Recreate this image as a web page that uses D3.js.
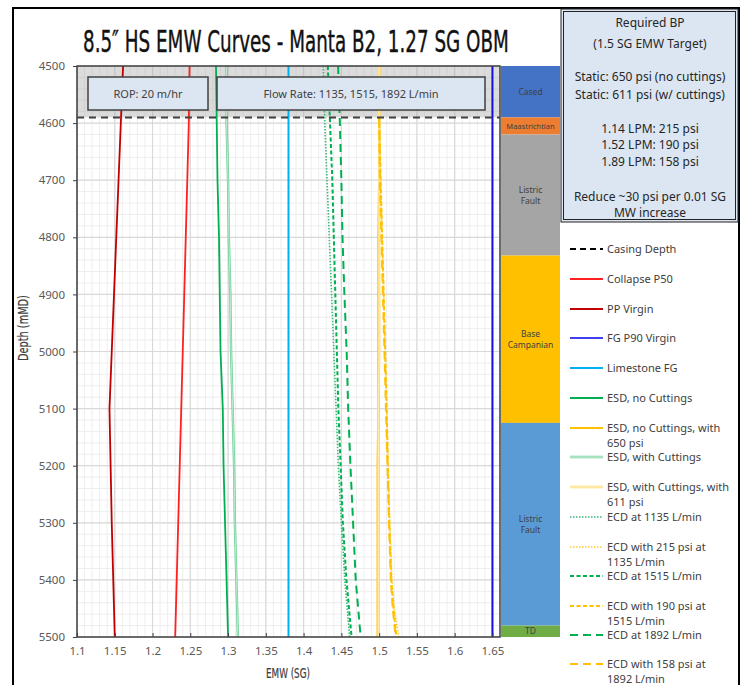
<!DOCTYPE html>
<html><head><meta charset="utf-8">
<script src="https://cdn.jsdelivr.net/npm/d3@7"></script>
<style>
html,body{margin:0;padding:0;background:#fff;}
svg text{font-family:"Noto Sans","Open Sans",sans-serif;}
.narrow{font-family:"Liberation Sans Narrow","DejaVu Sans Condensed","Roboto Condensed","Liberation Sans",sans-serif;}
</style></head>
<body>
<svg id="c" width="743" height="685"></svg>
<script>
// ---------------- DATA ----------------
const depths = [4500,4600,4700,4800,4900,5000,5100,5200,5300,5400,5500];
const ppVirgin     = [1.161,1.158,1.155,1.152,1.149,1.146,1.143,1.1445,1.146,1.148,1.150];
const collapseP50  = [1.249,1.248,1.246,1.244,1.242,1.240,1.238,1.236,1.234,1.232,1.230];
const fgP90        = [1.65,1.65,1.65,1.65,1.65,1.65,1.65,1.65,1.65,1.65,1.65];
const limestoneFG  = [1.38,1.38,1.38,1.38,1.38,1.38,1.38,1.38,1.38,1.38,1.38];
const esdNoCut     = [1.284,1.285,1.286,1.288,1.289,1.290,1.293,1.294,1.296,1.298,1.300];
const esdCut       = [1.298,1.298,1.300,1.301,1.303,1.304,1.306,1.308,1.309,1.311,1.313];
const esdNoCut650  = [1.500,1.500,1.500,1.499,1.499,1.499,1.499,1.498,1.498,1.498,1.498];
const esdCut611    = [1.500,1.500,1.500,1.500,1.500,1.500,1.499,1.499,1.499,1.499,1.499];
const ecd1135      = [1.426,1.428,1.431,1.434,1.437,1.440,1.443,1.446,1.450,1.4545,1.461];
const ecd1515      = [1.432,1.435,1.438,1.440,1.442,1.444,1.446,1.449,1.452,1.4567,1.4635];
const ecd1892      = [1.4457,1.448,1.450,1.4515,1.454,1.457,1.459,1.462,1.4655,1.469,1.4755];
const depthsBP = [4590,4700,4800,4900,5000,5100,5200,5300,5400,5450,5500];
const ecd215   = [1.500,1.502,1.504,1.506,1.508,1.510,1.512,1.514,1.517,1.520,1.526];
const ecd190   = [1.500,1.502,1.504,1.506,1.508,1.510,1.5115,1.5135,1.516,1.519,1.523];
const ecd158   = [1.500,1.501,1.503,1.505,1.507,1.509,1.511,1.513,1.5155,1.518,1.522];

const casingDepth = 4590;
const xTicks = [1.1,1.15,1.2,1.25,1.3,1.35,1.4,1.45,1.5,1.55,1.6,1.65];
const yTicks = [4500,4600,4700,4800,4900,5000,5100,5200,5300,5400,5500];

const stratNames  = ["Cased","Maastrichtian","Listric\nFault","Base\nCampanian","Listric\nFault","TD"];
const stratTops   = [4500,4590,4620,4832,5125,5480];
const stratBases  = [4590,4620,4832,5125,5480,5500];
const stratColors = ["#4472c4","#ed7d31","#a5a5a5","#ffc000","#5b9bd5","#70ad47"];

const infoLines = ["Required BP","(1.5 SG EMW Target)","","Static: 650 psi (no cuttings)","Static: 611 psi (w/ cuttings)","","1.14 LPM: 215 psi","1.52 LPM: 190 psi","1.89 LPM: 158 psi","","Reduce ~30 psi per 0.01 SG","MW increase"];

// ---------------- SERIES STYLES ----------------
const series = [
  {name:["Casing Depth"], type:"casing"},
  {name:["Collapse P50"], vals:collapseP50, d:depths, color:"#ff2020", w:1.8},
  {name:["PP Virgin"], vals:ppVirgin, d:depths, color:"#c00000", w:1.8},
  {name:["FG P90 Virgin"], vals:fgP90, d:depths, color:"#1010e0", w:2, lcolor:"#4040f0"},
  {name:["Limestone FG"], vals:limestoneFG, d:depths, color:"#00b0f0", w:2},
  {name:["ESD, no Cuttings"], vals:esdNoCut, d:depths, color:"#00b050", w:1.8},
  {name:["ESD, no Cuttings, with","650 psi"], vals:esdNoCut650, d:depths, color:"#ffc000", w:2.2},
  {name:["ESD, with Cuttings"], vals:esdCut, d:depths, color:"#6ccf96", w:2.4, dbl:true},
  {name:["ESD, with Cuttings, with","611 psi"], vals:esdCut611, d:depths, color:"#ffd966", w:2.4, dbl:true},
  {name:["ECD at 1135 L/min"], vals:ecd1135, d:depths, color:"#3cb878", w:1.6, dash:"1.5,1.5"},
  {name:["ECD with 215 psi at","1135 L/min"], vals:ecd215, d:depthsBP, color:"#ffcc33", w:1.6, dash:"1.5,1.5"},
  {name:["ECD at 1515 L/min"], vals:ecd1515, d:depths, color:"#00b050", w:2, dash:"4,2.5"},
  {name:["ECD with 190 psi at","1515 L/min"], vals:ecd190, d:depthsBP, color:"#ffc000", w:2, dash:"4,2.5"},
  {name:["ECD at 1892 L/min"], vals:ecd1892, d:depths, color:"#00b050", w:2, dash:"8,5"},
  {name:["ECD with 158 psi at","1892 L/min"], vals:ecd158, d:depthsBP, color:"#ffc000", w:2, dash:"8,5"}
];

// ---------------- LAYOUT ----------------
const svg = d3.select("#c");
const L = 77, R = 500, T = 66, B = 637;
const x = d3.scaleLinear().domain([1.1,1.66]).range([L,R]);
const y = d3.scaleLinear().domain([4500,5500]).range([T,B]);

// condensed text helper: horizontally scaled so that it spans `width` px
function squeezed(parent, txt, size, width, tx, ty, rot, color, sw){
  const gg = parent.append("g");
  const t = gg.append("text").attr("class","narrow").attr("x",0).attr("y",0)
    .attr("font-size",size).attr("fill",color).attr("stroke",color).attr("stroke-width",sw).text(txt);
  const nat = t.node().getComputedTextLength();
  const k = width / nat;
  gg.attr("transform",`translate(${tx},${ty}) rotate(${rot}) scale(${k},1)`);
  return gg;
}

// outer frame
svg.append("rect").attr("x",13).attr("y",8).attr("width",726).attr("height",720)
  .attr("fill","#fff").attr("stroke","#000").attr("stroke-width",2);

// title
squeezed(svg, "8.5\u2033 HS EMW Curves - Manta B2, 1.27 SG OBM", 31, 426, 83, 52, 0, "#111", 0.4);

// grid
const g = svg.append("g");
const minorX = d3.range(110,167).map(v=>v/100);
const minorY = d3.range(4500,5501,20);
g.selectAll(".mx").data(minorX).join("line")
  .attr("x1",d=>x(d)).attr("x2",d=>x(d)).attr("y1",T).attr("y2",B)
  .attr("stroke","#eeeeee").attr("stroke-width",1);
g.selectAll(".my").data(minorY).join("line")
  .attr("x1",L).attr("x2",R).attr("y1",d=>y(d)).attr("y2",d=>y(d))
  .attr("stroke","#eeeeee").attr("stroke-width",1);
g.selectAll(".Mx").data(xTicks).join("line")
  .attr("x1",d=>x(d)).attr("x2",d=>x(d)).attr("y1",T).attr("y2",B)
  .attr("stroke","#d9d9d9").attr("stroke-width",1.2);
g.selectAll(".My").data(yTicks).join("line")
  .attr("x1",L).attr("x2",R).attr("y1",d=>y(d)).attr("y2",d=>y(d))
  .attr("stroke","#d9d9d9").attr("stroke-width",1.2);

// casing shading
svg.append("rect").attr("x",L).attr("y",y(4500)).attr("width",R-L).attr("height",y(casingDepth)-y(4500))
  .attr("fill","#a6a6a6").attr("opacity",0.4);

// curves
const line = d3.line().curve(d3.curveLinear);
const cg = svg.append("g");
series.filter(s=>s.vals).forEach(s=>{
  const pts = s.vals.map((v,i)=>[x(v),y(s.d[i])]);
  const p = cg.append("path").attr("d",line(pts)).attr("fill","none")
    .attr("stroke",s.color).attr("stroke-width",s.w);
  if(s.dash) p.attr("stroke-dasharray",s.dash);
  if(s.dbl) cg.append("path").attr("d",line(pts)).attr("fill","none")
    .attr("stroke","#ffffff").attr("stroke-opacity",0.7).attr("stroke-width",0.8);
});

// casing depth line
svg.append("line").attr("x1",L).attr("x2",R).attr("y1",y(casingDepth)).attr("y2",y(casingDepth))
  .attr("stroke","#404040").attr("stroke-width",2).attr("stroke-dasharray","7,5");

// info boxes in plot
function box(x0,x1,txt){
  svg.append("rect").attr("x",x0).attr("y",77).attr("width",x1-x0).attr("height",33)
    .attr("fill","#dce6f2").attr("stroke","#404040").attr("stroke-width",1.5);
  svg.append("text").attr("x",(x0+x1)/2).attr("y",98).attr("text-anchor","middle")
    .attr("font-size",11).attr("fill","#404040").text(txt);
}
box(88,208,"ROP: 20 m/hr");
box(217,485,"Flow Rate: 1135, 1515, 1892 L/min");

// plot border
svg.append("rect").attr("x",L).attr("y",T).attr("width",R-L).attr("height",B-T)
  .attr("fill","none").attr("stroke","#404040").attr("stroke-width",1.5);

// axes
const xAxis = d3.axisBottom(x).tickValues(xTicks).tickSize(-4).tickPadding(10)
  .tickFormat(d=>d3.format("")(+d.toFixed(2)));
const xa = svg.append("g").attr("transform",`translate(0,${B})`).call(xAxis);
xa.select(".domain").remove();
xa.selectAll("line").attr("stroke","#404040");
xa.selectAll("text").attr("font-size",11.5).attr("fill","#595959").attr("font-family","Noto Sans, Open Sans, sans-serif");

const yAxis = d3.axisLeft(y).tickValues(yTicks).tickSize(4).tickPadding(8).tickFormat(d3.format("d"));
const ya = svg.append("g").attr("transform",`translate(${L},0)`).call(yAxis);
ya.select(".domain").remove();
ya.selectAll("line").attr("stroke","#404040");
ya.selectAll("text").attr("font-size",11.5).attr("fill","#595959").attr("font-family","Noto Sans, Open Sans, sans-serif");

squeezed(svg, "EMW (SG)", 14, 44, 266, 678, 0, "#404040", 0.2);
squeezed(svg, "Depth (mMD)", 14, 66, 28, 361, -90, "#404040", 0.2);

// strat column
const sx0 = 501, sx1 = 560;
stratNames.forEach((n,i)=>{
  svg.append("rect").attr("x",sx0).attr("y",y(stratTops[i])).attr("width",sx1-sx0)
    .attr("height",y(stratBases[i])-y(stratTops[i])).attr("fill",stratColors[i]);
  const lines = n.split("\n");
  const cy = (y(stratTops[i])+y(stratBases[i]))/2;
  lines.forEach((t,j)=>{
    svg.append("text").attr("x",(sx0+sx1)/2).attr("y",cy+(j-(lines.length-1)/2)*11+3)
      .attr("text-anchor","middle").attr("font-size",i===1?7.5:8.5).attr("fill","#404040").text(t);
  });
});

// required BP box
svg.append("rect").attr("x",561).attr("y",9).attr("width",177).attr("height",213)
  .attr("fill","#dce6f2").attr("stroke","#222").attr("stroke-width",1);
svg.append("rect").attr("x",563.5).attr("y",11.5).attr("width",172).attr("height",208)
  .attr("fill","none").attr("stroke","#222").attr("stroke-width",1);
const infoY = [23,44,0,77,95,0,129,145,162,0,197,213];
infoLines.forEach((t,i)=>{
  if(!t) return;
  svg.append("text").attr("x",650).attr("y",infoY[i]+4).attr("text-anchor","middle")
    .attr("font-size",12).attr("fill","#262626").text(t);
});

// legend
const legY = [249,279,309,338,368,398,428,457,487,517,547,576,606,635,664];
const lg = svg.append("g");
series.forEach((s,i)=>{
  const yy = legY[i];
  if(s.type==="casing"){
    lg.append("line").attr("x1",570).attr("x2",603).attr("y1",yy).attr("y2",yy)
      .attr("stroke","#000").attr("stroke-width",2).attr("stroke-dasharray","6,4");
  } else {
    const l = lg.append("line").attr("x1",570).attr("x2",603).attr("y1",yy).attr("y2",yy)
      .attr("stroke",s.lcolor||s.color).attr("stroke-width",s.w);
    if(s.dash) l.attr("stroke-dasharray",s.dash);
    if(s.dbl) lg.append("line").attr("x1",570).attr("x2",603).attr("y1",yy).attr("y2",yy)
      .attr("stroke","#fff").attr("stroke-width",0.8);
  }
  s.name.forEach((t,j)=>{
    lg.append("text").attr("x",607).attr("y",yy+4+j*14.5).attr("font-size",11)
      .attr("fill","#404040").text(t);
  });
});
</script>
</body></html>
